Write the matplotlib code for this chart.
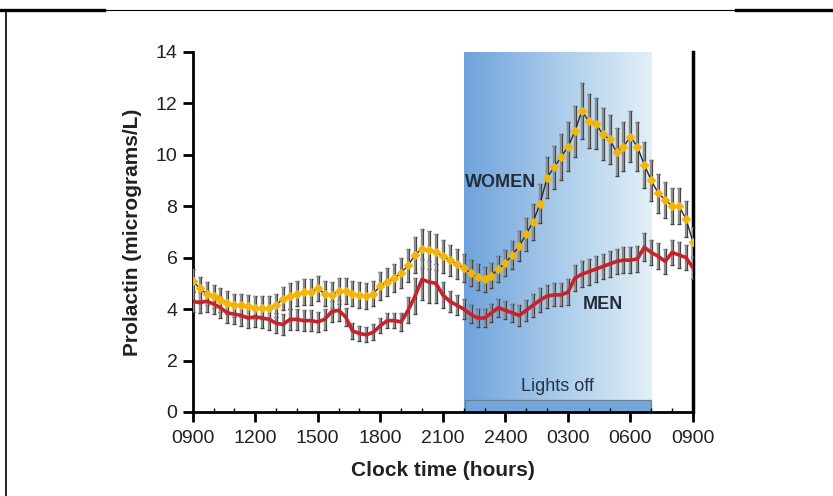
import numpy as np
import matplotlib
matplotlib.use('Agg')
import matplotlib.pyplot as plt
from matplotlib.colors import LinearSegmentedColormap
from matplotlib.patches import Rectangle
from matplotlib.lines import Line2D

plt.rcParams['font.family'] = ['Liberation Sans', 'DejaVu Sans']

# hours after 0900, sampled every 20 min
hours = np.arange(73) / 3.0

women = [5.1, 4.8, 4.6, 4.5, 4.35, 4.25, 4.15, 4.15, 4.1, 4.05,
         4.05, 4.05, 4.15, 4.4, 4.5, 4.6, 4.65, 4.65, 4.8, 4.6,
         4.55, 4.7, 4.7, 4.6, 4.55, 4.5, 4.6, 4.9, 5.05, 5.2,
         5.4, 5.7, 6.1, 6.35, 6.3, 6.2, 6.05, 5.9, 5.75, 5.6,
         5.4, 5.25, 5.15, 5.3, 5.55, 5.8, 6.1, 6.45, 6.9, 7.4,
         8.1, 9.1, 9.5, 9.9, 10.3, 10.9, 11.7, 11.3, 11.2, 10.8,
         10.6, 10.1, 10.3, 10.7, 10.3, 9.6, 9.0, 8.5, 8.25, 8.0,
         8.0, 7.5, 6.6]
women_err = [0.45, 0.45, 0.45, 0.45, 0.45, 0.45, 0.45, 0.45, 0.45, 0.45,
             0.45, 0.45, 0.45, 0.45, 0.5, 0.5, 0.5, 0.5, 0.5, 0.5,
             0.5, 0.5, 0.5, 0.5, 0.5, 0.5, 0.5, 0.55, 0.55, 0.55,
             0.6, 0.65, 0.7, 0.75, 0.75, 0.7, 0.65, 0.6, 0.6, 0.55,
             0.5, 0.5, 0.5, 0.5, 0.5, 0.5, 0.55, 0.6, 0.65, 0.7,
             0.75, 0.8, 0.85, 0.9, 0.95, 1.0, 1.1, 1.05, 1.0, 1.0,
             0.95, 0.95, 0.95, 1.0, 0.95, 0.9, 0.8, 0.75, 0.7, 0.7,
             0.7, 0.7, 0.6]

men = [4.3, 4.25, 4.3, 4.2, 4.05, 3.85, 3.8, 3.75, 3.65, 3.7,
       3.65, 3.6, 3.45, 3.4, 3.6, 3.6, 3.55, 3.55, 3.5, 3.6,
       3.9, 3.95, 3.7, 3.15, 3.05, 3.0, 3.1, 3.35, 3.55, 3.55,
       3.5, 3.95, 4.5, 5.15, 5.05, 5.0, 4.55, 4.3, 4.15, 4.0,
       3.8, 3.65, 3.65, 3.85, 4.05, 3.95, 3.85, 3.75, 3.95, 4.15,
       4.35, 4.5, 4.55, 4.55, 4.65, 5.2, 5.35, 5.45, 5.55, 5.65,
       5.75, 5.85, 5.9, 5.9, 5.95, 6.4, 6.2, 6.05, 5.85, 6.2,
       6.1, 6.0, 5.6]
men_err = [0.4, 0.4, 0.4, 0.4, 0.4, 0.4, 0.4, 0.4, 0.4, 0.4,
           0.4, 0.4, 0.4, 0.4, 0.4, 0.4, 0.4, 0.4, 0.4, 0.4,
           0.4, 0.4, 0.35, 0.3, 0.3, 0.3, 0.3, 0.3, 0.3, 0.3,
           0.35, 0.5, 0.7, 0.8, 0.8, 0.75, 0.5, 0.4, 0.4, 0.4,
           0.35, 0.35, 0.35, 0.35, 0.35, 0.35, 0.35, 0.4, 0.4, 0.45,
           0.45, 0.45, 0.45, 0.45, 0.5, 0.5, 0.5, 0.5, 0.5, 0.5,
           0.5, 0.5, 0.5, 0.5, 0.5, 0.55, 0.5, 0.5, 0.5, 0.5,
           0.5, 0.5, 0.45]

tick_labels = ['0900', '1200', '1500', '1800', '2100', '2400', '0300', '0600', '0900']
lights_off = (13.0, 22.0)

fig = plt.figure(figsize=(8.33, 4.96), dpi=100)
ax = fig.add_axes([0.2313, 0.1694, 0.6006, 0.7264])

# lights-off shading, dark blue fading to pale
cmap = LinearSegmentedColormap.from_list('night', ['#6fa3dc', '#a9cbea', '#e2f0f6'])
grad = np.linspace(0, 1, 256).reshape(1, -1)
ax.imshow(grad, cmap=cmap, extent=[lights_off[0], lights_off[1], 0, 14],
          aspect='auto', zorder=0)
ax.add_patch(Rectangle((lights_off[0] + 0.07, 0), lights_off[1] - lights_off[0] - 0.07, 0.45,
                       facecolor='#73a5da', edgecolor='#6f8090', lw=0.9, zorder=1))
ax.text(sum(lights_off) / 2, 1.0, 'Lights off', ha='center', va='center',
        fontsize=13, color='#27324a', zorder=2)

# error bars: gray bars with a dark outline
for vals, errs in [(women, women_err), (men, men_err)]:
    ax.errorbar(hours, vals, yerr=errs, fmt='none', ecolor='#454545',
                elinewidth=2.3, capsize=1.4, capthick=1.0, zorder=3)
    ax.errorbar(hours, vals, yerr=errs, fmt='none', ecolor='#a2a2a2',
                elinewidth=1.1, zorder=3.1)

ax.plot(hours, women, color='#2b2b2b', lw=1.0, zorder=4)
ax.plot(hours, women, ls='none', marker='D', ms=3.6, color='#f2b50a',
        mec='#f2b50a', zorder=5)
ax.plot(hours, men, color='#c8232c', lw=2.6, zorder=4)

ax.text(14.77, 8.9, 'WOMEN', ha='center', va='center', fontsize=13,
        fontweight='bold', color='#222c3a', zorder=6)
ax.text(19.68, 4.16, 'MEN', ha='center', va='center', fontsize=13,
        fontweight='bold', color='#222c3a', zorder=6)

ax.set_xlim(0, 24)
ax.set_ylim(0, 14)
ax.set_xticks(np.arange(0, 25, 3))
ax.set_xticklabels(tick_labels)
ax.set_xticks(np.arange(0, 25, 1), minor=True)
ax.set_yticks(np.arange(0, 15, 2))
ax.tick_params(axis='both', which='major', labelsize=14, width=2, length=7,
               color='black', labelcolor='#222222', pad=4)
ax.tick_params(axis='x', which='major', pad=6)
ax.tick_params(axis='x', which='minor', direction='in', length=3, width=1)
ax.spines['top'].set_visible(False)
for s in ['left', 'bottom', 'right']:
    ax.spines[s].set_linewidth(2)
ax.spines['right'].set_linewidth(2.5)
ax.set_facecolor('white')

ax.set_xlabel('Clock time (hours)', fontsize=15, fontweight='bold',
              color='#222222', labelpad=10)
ax.set_ylabel('Prolactin (micrograms/L)', fontsize=15, fontweight='bold',
              color='#222222', labelpad=10)

# page frame lines around the figure
ytop = 1 - 10 / 496
fig.add_artist(Line2D([0, 104 / 833], [ytop, ytop], color='black', lw=2.4,
                      transform=fig.transFigure))
fig.add_artist(Line2D([104 / 833, 736 / 833], [ytop, ytop], color='black', lw=0.8,
                      transform=fig.transFigure))
fig.add_artist(Line2D([736 / 833, 1], [ytop, ytop], color='black', lw=2.4,
                      transform=fig.transFigure))
fig.add_artist(Line2D([5.5 / 833, 5.5 / 833], [0, ytop], color='black', lw=1.2,
                      transform=fig.transFigure))

fig.savefig('out.png', dpi=100)
